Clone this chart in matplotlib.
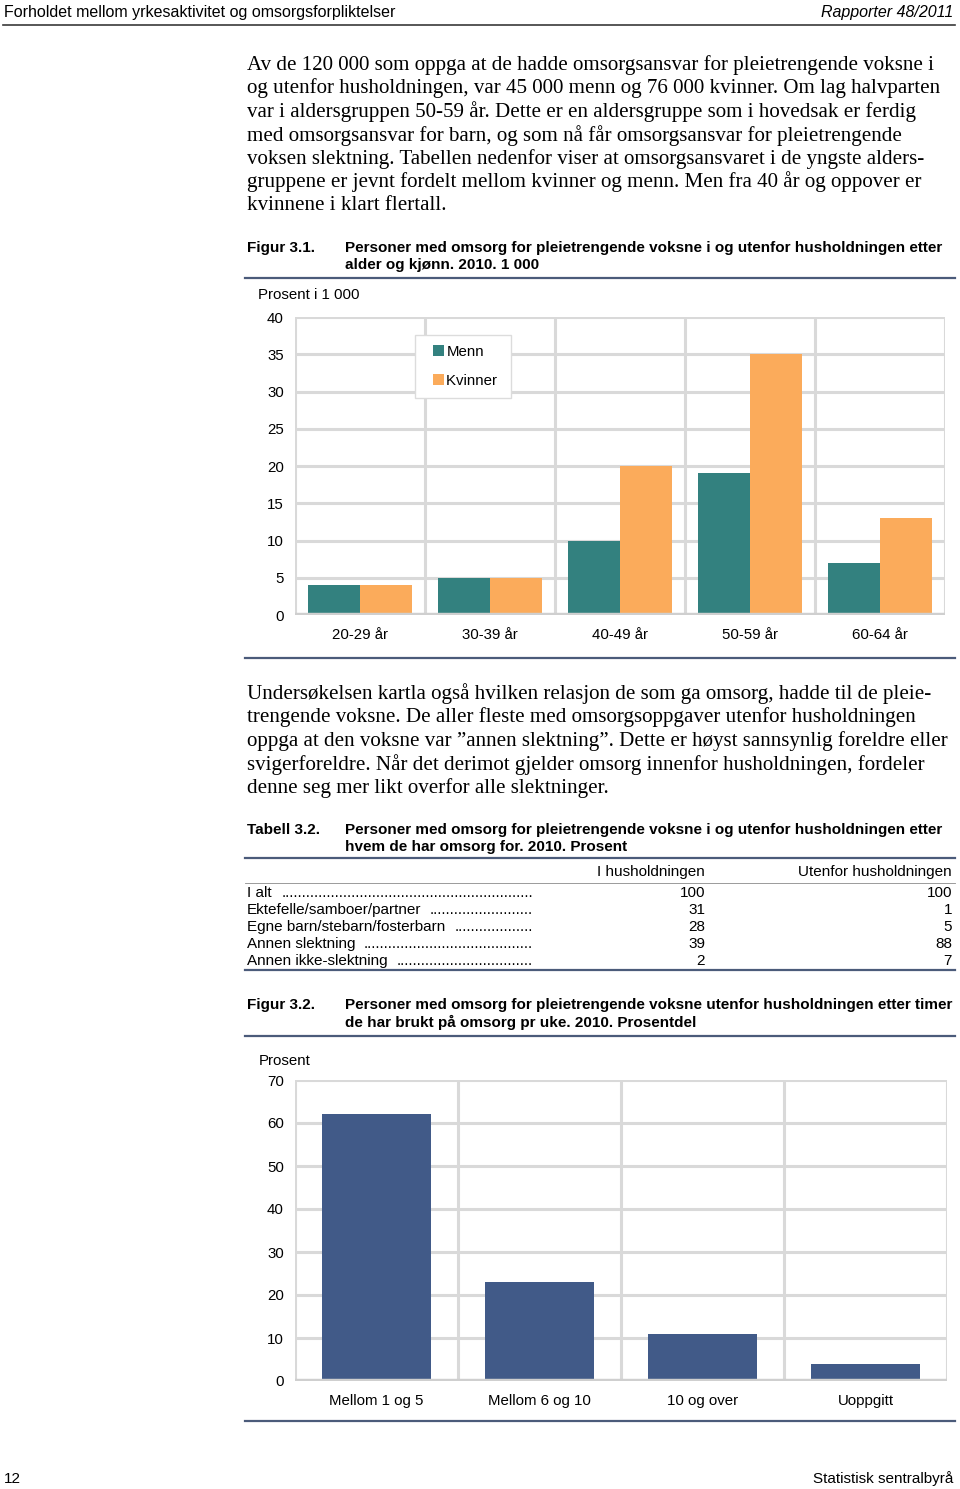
import matplotlib
matplotlib.use('Agg')
import matplotlib.pyplot as plt
from matplotlib.patches import Patch, Rectangle
from matplotlib.legend_handler import HandlerPatch
from matplotlib.lines import Line2D
import numpy as np

# === data ===
age_groups = ['20-29 år', '30-39 år', '40-49 år', '50-59 år', '60-64 år']
menn = [4, 5, 10, 19, 7]
kvinner = [4, 5, 20, 35, 13]

row_labels = ['I alt', 'Ektefelle/samboer/partner', 'Egne barn/stebarn/fosterbarn',
              'Annen slektning', 'Annen ikke-slektning']
i_hus = [100, 31, 28, 39, 2]
utenfor = [100, 1, 5, 88, 7]

hour_groups = ['Mellom 1 og 5', 'Mellom 6 og 10', '10 og over', 'Uoppgitt']
hour_share = [62, 23, 11, 4]

para1 = [
    "Av de 120 000 som oppga at de hadde omsorgsansvar for pleietrengende voksne i",
    "og utenfor husholdningen, var 45 000 menn og 76 000 kvinner. Om lag halvparten",
    "var i aldersgruppen 50-59 år. Dette er en aldersgruppe som i hovedsak er ferdig",
    "med omsorgsansvar for barn, og som nå får omsorgsansvar for pleietrengende",
    "voksen slektning. Tabellen nedenfor viser at omsorgsansvaret i de yngste alders-",
    "gruppene er jevnt fordelt mellom kvinner og menn. Men fra 40 år og oppover er",
    "kvinnene i klart flertall.",
]
para2 = [
    "Undersøkelsen kartla også hvilken relasjon de som ga omsorg, hadde til de pleie-",
    "trengende voksne. De aller fleste med omsorgsoppgaver utenfor husholdningen",
    "oppga at den voksne var ”annen slektning”. Dette er høyst sannsynlig foreldre eller",
    "svigerforeldre. Når det derimot gjelder omsorg innenfor husholdningen, fordeler",
    "denne seg mer likt overfor alle slektninger.",
]

# === style ===
W, H = 960, 1489
SANS = 'Liberation Sans'
SERIF = 'Liberation Serif'
TEAL = '#33817f'
ORANGE = '#fbab5b'
NAVY = '#415a88'
GRID = '#d9d9d9'
RULE = '#4b5b7a'
BODY = 15.1
TITLE = 11.0
TAB = 11.0

fig = plt.figure(figsize=(W / 100, H / 100), dpi=100)

def fx(x):
    return x / W

def fy(y):
    return 1 - y / H

def txt(x, y, s, size=10, family=SANS, **kw):
    return fig.text(fx(x), fy(y), s, fontsize=size, family=family, va='center', **kw)

def rule(y, x0=245, x1=955, color=RULE, lw=1.6):
    fig.add_artist(Line2D([fx(x0), fx(x1)], [fy(y), fy(y)], color=color, lw=lw))

# legend marker: small square pushed to the right of the handle box
class SquareHandler(HandlerPatch):
    def create_artists(self, legend, orig_handle, xdescent, ydescent,
                       width, height, fontsize, trans):
        side = height
        p = Rectangle((width - side - xdescent, -ydescent), side, side,
                      facecolor=orig_handle.get_facecolor(), edgecolor='none')
        p.set_transform(trans)
        return [p]

# header
txt(4, 12, 'Forholdet mellom yrkesaktivitet og omsorgsforpliktelser', size=11.5)
txt(953, 12, 'Rapporter 48/2011', size=11.5, style='italic', ha='right')
rule(25, 3, 955, color='#3a3a3a', lw=1.2)

# paragraph 1
for i, line in enumerate(para1):
    txt(247, 65 + i * 23.4, line, size=BODY, family=SERIF)

# figure 3.1 title
txt(247, 248, 'Figur 3.1.', size=TITLE, weight='bold')
txt(345, 248, 'Personer med omsorg for pleietrengende voksne i og utenfor husholdningen etter',
    size=TITLE, weight='bold')
txt(345, 265, 'alder og kjønn. 2010. 1 000', size=TITLE, weight='bold')
rule(278)

txt(258, 295, 'Prosent i 1 000', size=10.8)

def setup_axes(ax, ncat, ymax, ystep):
    ax.set_xlim(-0.5, ncat - 0.5)
    ax.set_ylim(0, ymax)
    for s in ax.spines.values():
        s.set_visible(False)
    for v in np.arange(-0.5, ncat, 1.0):
        ax.axvline(v, color=GRID, lw=2.2, zorder=0)
    for t in np.arange(ystep, ymax + 0.1, ystep):
        ax.axhline(t, color=GRID, lw=2.2, zorder=0)
    ax.axhline(0, color='#cfcfcf', lw=3.2, zorder=3)
    ax.set_yticks(np.arange(0, ymax + 0.1, ystep))
    ax.tick_params(length=0, labelsize=10.8)
    ax.tick_params(axis='y', pad=8)
    ax.tick_params(axis='x', pad=9)
    for lab in ax.get_xticklabels() + ax.get_yticklabels():
        lab.set_family(SANS)

# chart 1
ax1 = fig.add_axes([fx(295), fy(615), 650 / W, (615 - 317) / H])
x = np.arange(len(age_groups))
ax1.bar(x - 0.2, menn, width=0.4, color=TEAL, zorder=2)
ax1.bar(x + 0.2, kvinner, width=0.4, color=ORANGE, zorder=2)
setup_axes(ax1, len(age_groups), 40, 5)
ax1.set_xticks(x)
ax1.set_xticklabels(age_groups, family=SANS)
leg = ax1.legend(handles=[Patch(color=TEAL, label='Menn'), Patch(color=ORANGE, label='Kvinner ')],
                 handler_map={Patch: SquareHandler()},
                 loc='upper left', bbox_to_anchor=(fx(415), fy(335)),
                 bbox_transform=fig.transFigure, frameon=True, fancybox=False,
                 edgecolor='#dcdcdc', framealpha=1, handlelength=1.3, handleheight=0.75,
                 handletextpad=0.15, labelspacing=1.0, borderpad=0.65, borderaxespad=0,
                 prop={'family': SANS, 'size': 10.8})
leg.set_zorder(5)
rule(658)

# paragraph 2
for i, line in enumerate(para2):
    txt(247, 694 + i * 23.4, line, size=BODY, family=SERIF)

# table 3.2
txt(247, 830, 'Tabell 3.2.', size=TITLE, weight='bold')
txt(345, 830, 'Personer med omsorg for pleietrengende voksne i og utenfor husholdningen etter',
    size=TITLE, weight='bold')
txt(345, 847, 'hvem de har omsorg for. 2010. Prosent', size=TITLE, weight='bold')
rule(858)
txt(705, 872, 'I husholdningen', size=TAB, ha='right')
txt(952, 872, 'Utenfor husholdningen', size=TAB, ha='right')
rule(883, color='#8a8a8a', lw=0.6)

# dot leaders: measure widths, then fill up to x=533
fig.canvas.draw()
renderer = fig.canvas.get_renderer()
dot = txt(100, 100, '.' * 10, size=TAB)
dot_w = dot.get_window_extent(renderer).width / 10
dot.remove()
for i, (lab, a, b) in enumerate(zip(row_labels, i_hus, utenfor)):
    y = 893 + i * 17
    t = txt(247, y, lab, size=TAB)
    lw_px = t.get_window_extent(renderer).width
    start = 247 + lw_px + 8
    ndots = int((533 - start) / dot_w)
    txt(533, y, '.' * max(ndots, 0), size=TAB, ha='right')
    txt(705, y, str(a), size=TAB, ha='right')
    txt(952, y, str(b), size=TAB, ha='right')
rule(970)

# figure 3.2 title
txt(247, 1005, 'Figur 3.2.', size=TITLE, weight='bold')
txt(345, 1005, 'Personer med omsorg for pleietrengende voksne utenfor husholdningen etter timer',
    size=TITLE, weight='bold')
txt(345, 1022, 'de har brukt på omsorg pr uke. 2010. Prosentdel', size=TITLE, weight='bold')
rule(1036)

txt(259, 1061, 'Prosent', size=10.8)

# chart 2
ax2 = fig.add_axes([fx(295), fy(1381), 652 / W, (1381 - 1080) / H])
x2 = np.arange(len(hour_groups))
ax2.bar(x2, hour_share, width=0.665, color=NAVY, zorder=2)
setup_axes(ax2, len(hour_groups), 70, 10)
ax2.set_xticks(x2)
ax2.set_xticklabels(hour_groups, family=SANS)
rule(1421)

# footer
txt(4, 1479, '12', size=11)
txt(953, 1479, 'Statistisk sentralbyrå', size=11, ha='right')

fig.savefig('out.png', dpi=100)
